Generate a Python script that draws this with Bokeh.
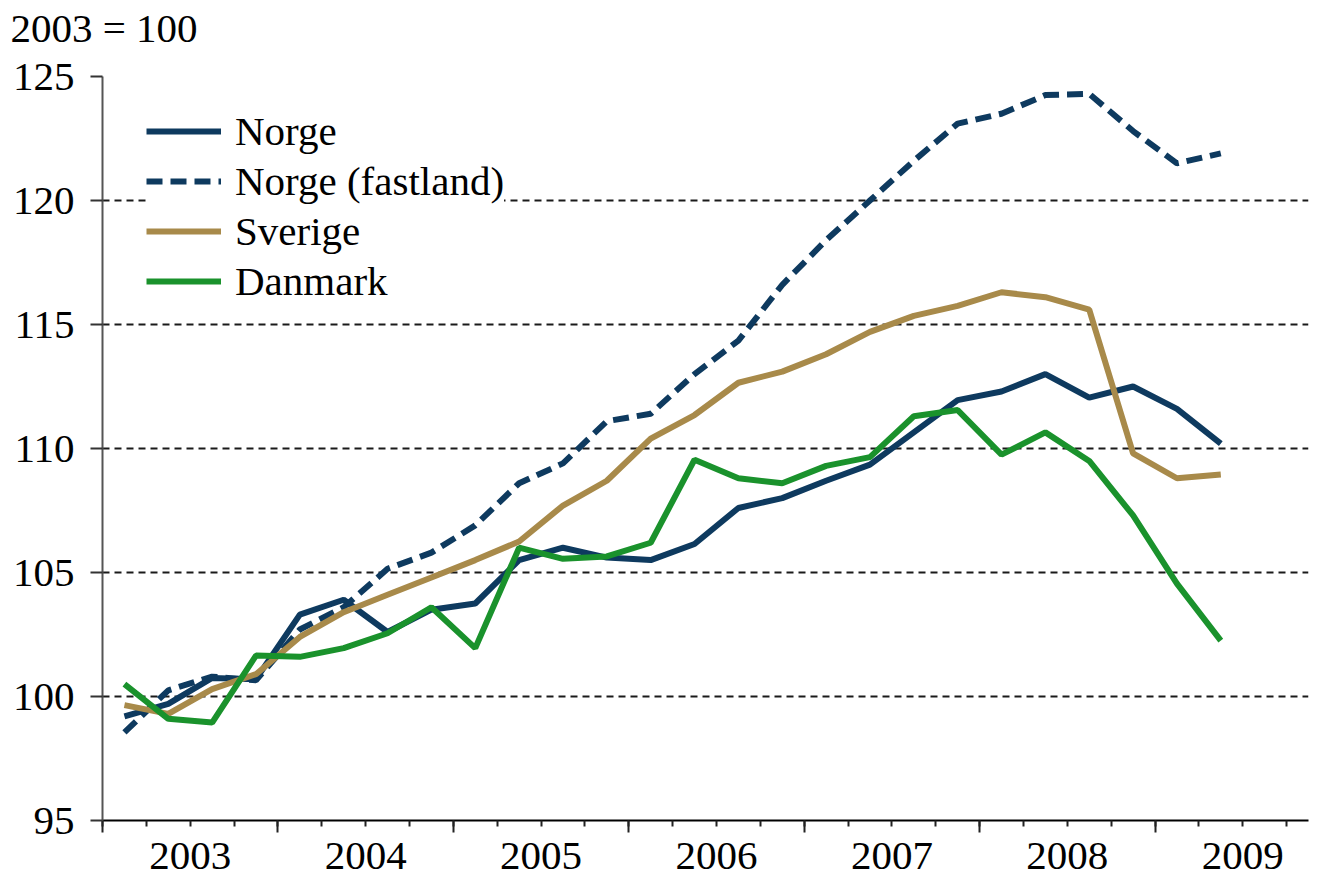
from bokeh.plotting import figure
from bokeh.models import Range1d, FixedTicker, Legend, LegendItem, Title, LinearAxis
from bokeh.embed import file_html
from bokeh.resources import INLINE

quarters = ["2003K1", "2003K2", "2003K3", "2003K4",
            "2004K1", "2004K2", "2004K3", "2004K4",
            "2005K1", "2005K2", "2005K3", "2005K4",
            "2006K1", "2006K2", "2006K3", "2006K4",
            "2007K1", "2007K2", "2007K3", "2007K4",
            "2008K1", "2008K2", "2008K3", "2008K4",
            "2009K1", "2009K2"]
years = ["2003", "2004", "2005", "2006", "2007", "2008", "2009"]

norge = [99.2, 99.7, 100.75, 100.7, 103.3, 103.9, 102.6, 103.5, 103.75, 105.5,
         106.0, 105.6, 105.5, 106.15, 107.6, 108.0, 108.7, 109.35, 110.65, 111.95,
         112.3, 113.0, 112.05, 112.5, 111.6, 110.2]
norge_fastland = [98.55, 100.25, 100.8, 100.65, 102.7, 103.6, 105.15, 105.8, 106.9, 108.6,
                  109.4, 111.1, 111.4, 113.0, 114.35, 116.6, 118.4, 120.0, 121.6, 123.1,
                  123.5, 124.25, 124.3, 122.8, 121.5, 121.9]
sverige = [99.65, 99.3, 100.3, 100.9, 102.4, 103.4, 104.1, 104.8, 105.5, 106.25,
           107.7, 108.7, 110.4, 111.35, 112.65, 113.1, 113.8, 114.7, 115.35, 115.75,
           116.3, 116.1, 115.6, 109.8, 108.8, 108.95]
danmark = [100.5, 99.1, 98.95, 101.65, 101.6, 101.95, 102.55, 103.6, 101.95, 106.0,
           105.55, 105.65, 106.2, 109.55, 108.8, 108.6, 109.3, 109.65, 111.3, 111.55,
           109.75, 110.65, 109.5, 107.3, 104.55, 102.25]
y_ticks = [95, 100, 105, 110, 115, 120, 125]

NAVY = "#0e3a5f"
GOLD = "#a88a4a"
GREEN = "#1a922c"
FONT = "Liberation Serif"
FS = "41px"
LW = 6

# quarter index -> position at centre of its quarter slot
xpos = [i + 0.5 for i in range(len(quarters))]
year_pos = [4 * i + 2 for i in range(len(years))]
year_bounds = [4 * i for i in range(len(years))]
quarter_bounds = list(range(4 * len(years)))

p = figure(width=1320, height=876,
           x_range=Range1d(0, 27.5), y_range=Range1d(95, 125),
           output_backend="svg", toolbar_location=None,
           min_border_left=102, min_border_right=12,
           min_border_top=76, min_border_bottom=56)
p.outline_line_color = None
p.background_fill_color = "white"
p.border_fill_color = "white"

r1 = p.line(xpos, norge, line_color=NAVY, line_width=LW)
r2 = p.line(xpos, norge_fastland, line_color=NAVY, line_width=LW, line_dash="16 8")
r3 = p.line(xpos, sverige, line_color=GOLD, line_width=LW)
r4 = p.line(xpos, danmark, line_color=GREEN, line_width=LW)

# grid
p.xgrid.visible = False
p.ygrid.grid_line_color = "#1a1a1a"
p.ygrid.grid_line_dash = "7 5"
p.ygrid.grid_line_width = 1.8

# y axis
ya = p.yaxis[0]
ya.ticker = FixedTicker(ticks=y_ticks)
ya.major_tick_out = 12
ya.major_tick_in = 0
ya.minor_tick_line_color = None
ya.major_tick_line_color = "#333333"
ya.major_tick_line_width = 2
ya.axis_line_color = "#555555"
ya.axis_line_width = 2
ya.major_label_text_font = FONT
ya.major_label_text_font_size = FS
ya.major_label_text_color = "black"
ya.major_label_standoff = 16

# x axis next to the frame: tick marks only
xa = p.xaxis[0]
xa.ticker = FixedTicker(ticks=year_bounds, minor_ticks=quarter_bounds)
xa.major_tick_out = 12
xa.major_tick_in = 0
xa.minor_tick_out = 6
xa.minor_tick_in = 0
xa.major_tick_line_color = "#222222"
xa.minor_tick_line_color = "#222222"
xa.major_tick_line_width = 2
xa.minor_tick_line_width = 2
xa.axis_line_color = "black"
xa.axis_line_width = 2
xa.major_label_overrides = {b: "" for b in year_bounds}
xa.major_label_text_font_size = "1px"
xa.major_label_standoff = 0

# second x axis: year labels centred in each year
xl = LinearAxis(ticker=FixedTicker(ticks=year_pos, minor_ticks=[]),
                major_label_overrides={pos: yr for pos, yr in zip(year_pos, years)},
                major_tick_out=0, major_tick_in=0,
                major_tick_line_color=None, minor_tick_line_color=None,
                axis_line_color=None,
                major_label_text_font=FONT, major_label_text_font_size=FS,
                major_label_text_color="black", major_label_standoff=10)
p.add_layout(xl, "below")

# invisible spacer between frame and the unit title
spacer = LinearAxis(ticker=FixedTicker(ticks=[year_bounds[0]], minor_ticks=[]),
                    major_label_overrides={year_bounds[0]: ""},
                    major_label_text_font_size="1px",
                    major_tick_out=26, major_tick_in=0, minor_tick_out=0,
                    major_tick_line_color=None, minor_tick_line_color=None,
                    axis_line_color=None, major_label_standoff=0)
p.add_layout(spacer, "above")

legend = Legend(items=[LegendItem(label="Norge", renderers=[r1]),
                       LegendItem(label="Norge (fastland)", renderers=[r2]),
                       LegendItem(label="Sverige", renderers=[r3]),
                       LegendItem(label="Danmark", renderers=[r4])],
                location=(44, 514), orientation="vertical",
                label_text_font=FONT, label_text_font_size=FS,
                label_text_color="black",
                glyph_width=75, glyph_height=50, label_height=50,
                label_standoff=14, padding=12, spacing=0, margin=0,
                border_line_color=None, background_fill_color="white",
                background_fill_alpha=1.0)
p.add_layout(legend)

p.title = Title(text="2003 = 100", align="left", offset=-92,
                text_font=FONT, text_font_size=FS, text_font_style="normal",
                text_color="black", standoff=0)

open("out.html", "w").write(file_html(p, INLINE))
